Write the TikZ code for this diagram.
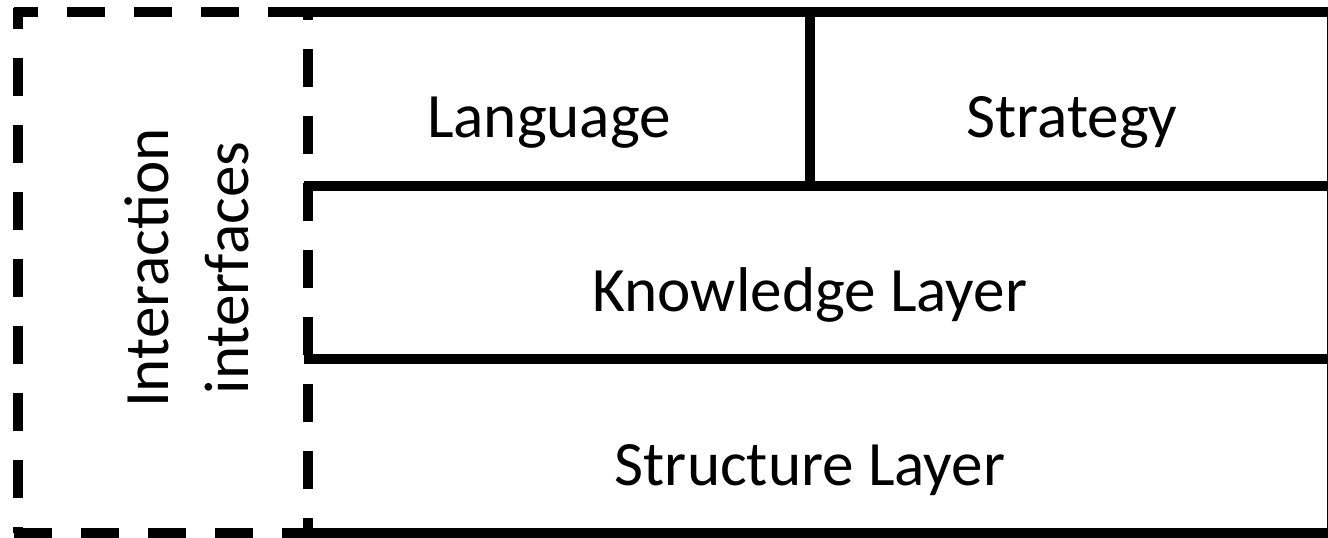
\documentclass[tikz,border=0pt]{standalone}
\usepackage{fontspec}
\setmainfont{Carlito}
\usetikzlibrary{positioning}

\tikzset{
  frame/.style={line width=4.75pt,line cap=butt},
  dashframe/.style={frame,dash pattern=on 19pt off 14.5pt},
  layer/.style={inner sep=0pt,anchor=base,font=\fontsize{31.6}{40}\selectfont}
}

\begin{document}
\begin{tikzpicture}[x=0.5pt,y=-0.5pt]
  \useasboundingbox (0,0) rectangle (1328,537);
  \clip (0,0) rectangle (1328,537);
  % corners
  \coordinate (tl) at (18,12);
  \coordinate (tm) at (308,12);
  \coordinate (tr) at (1332,12);
  \coordinate (bl) at (18,533);
  \coordinate (bm) at (308,533);
  \coordinate (br) at (1332,533);
  \coordinate (k1) at (308,186);
  \coordinate (k2) at (308,359);
  \coordinate (s1) at (810,12);
  \coordinate (s2) at (810,186);
  % dashed interaction box
  \draw[dashframe,dash phase=8.25pt] ([yshift=2.25pt]tl) -- (bl);
  \draw[dashframe,dash phase=6.75pt] ([xshift=-2.25pt]tl) -- (tm);
  \draw[dashframe] ([xshift=-2.25pt]bl) -- (bm);
  \draw[dashframe,dash phase=12.75pt] ([yshift=2.25pt]tm) -- (bm);
  % solid layers
  \draw[frame] ([xshift=-2.25pt]tm) -- (tr) -- (br) -- ([xshift=-2.25pt]bm);
  \draw[frame] ([xshift=-2.25pt]k1) -- (k1 -| tr);
  \draw[frame] ([xshift=-2.25pt]k2) -- (k2 -| tr);
  \draw[frame] (s1) -- (s2);
  % texts
  \node[layer] (language)  at (549,137)  {Language};
  \node[layer] (strategy)  at (1072,137) {Strategy};
  \node[layer] (knowledge) at (810,311)  {Knowledge Layer};
  \node[layer] (structure) at (810,485)  {Structure Layer};
  \node[layer,anchor=center,rotate=90,align=center] (interaction) at (187,268) {Interaction\\interfaces};
\end{tikzpicture}
\end{document}
